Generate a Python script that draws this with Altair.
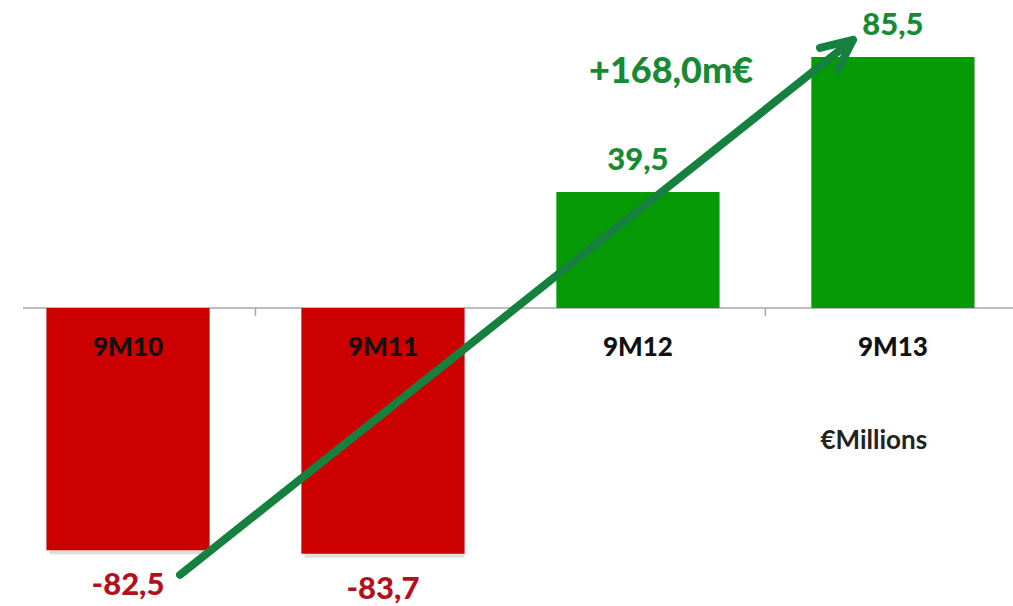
import altair as alt
import pandas as pd

# ---- data ----
categories = ["9M10", "9M11", "9M12", "9M13"]
values = [-82.5, -83.7, 39.5, 85.5]
value_labels = ["-82,5", "-83,7", "39,5", "85,5"]

# annotation arrow (x in category-index units, y in €M)
arrow_x = [0.204, 2.843]
arrow_y = [-90.9, 91.3]
head_x = [2.714, 2.843, 2.784]
head_y = [88.6, 91.3, 81.1]

note_text = ["+168,0m€"]
note_x = [2.13]
note_y = [76.6]

unit_text = ["€Millions"]
unit_x = [2.925]
unit_y = [-48.0]

baseline_x = [-0.412, 3.471]
tick_x = [0.5, 1.5, 2.5]
tick_len = -2.7

# ---- tables ----
bars = pd.DataFrame({"cat": categories, "idx": list(range(len(categories))),
                     "value": values, "label": value_labels})
arrow = pd.DataFrame({"x": arrow_x, "y": arrow_y, "o": [0, 1]})
head = pd.DataFrame({"x": head_x, "y": head_y, "o": [0, 1, 2]})
note = pd.DataFrame({"x": note_x, "y": note_y, "t": note_text})
unit = pd.DataFrame({"x": unit_x, "y": unit_y, "t": unit_text})
base = pd.DataFrame({"x": [baseline_x[0]], "x2": [baseline_x[1]], "y": [0.0]})
ticks = pd.DataFrame({"x": tick_x, "y": [0.0] * len(tick_x), "y2": [tick_len] * len(tick_x)})

XS = alt.Scale(domain=[-0.502, 3.471], nice=False, zero=False)
YS = alt.Scale(domain=[-101.5, 104.9], nice=False, zero=False)

FONT = "Lato"
W = 900
RED = "#CC0000"
GREEN = "#069A06"
GREEN_TXT = "#188A34"
RED_TXT = "#B3101E"
ARROW = "#16813F"

bar_base = alt.Chart(bars).transform_calculate(
    lo="datum.idx - 0.32", hi="datum.idx + 0.32", zero="0"
)

shadow = bar_base.mark_bar(color="black", opacity=0.13, xOffset=3, yOffset=4).encode(
    x=alt.X("lo:Q", scale=XS, axis=None),
    x2="hi:Q",
    y=alt.Y("value:Q", scale=YS, axis=None),
    y2="zero:Q",
)

baseline = alt.Chart(base).mark_rule(color="#A6A6A6", strokeWidth=1.5).encode(
    x=alt.X("x:Q", scale=XS, axis=None), x2="x2:Q",
    y=alt.Y("y:Q", scale=YS, axis=None),
)

tick_rules = alt.Chart(ticks).mark_rule(color="#A6A6A6", strokeWidth=1.5).encode(
    x=alt.X("x:Q", scale=XS, axis=None),
    y=alt.Y("y:Q", scale=YS, axis=None), y2="y2:Q",
)

bar_marks = bar_base.mark_bar().encode(
    x=alt.X("lo:Q", scale=XS, axis=None),
    x2="hi:Q",
    y=alt.Y("value:Q", scale=YS, axis=None),
    y2="zero:Q",
    color=alt.condition(alt.datum.value < 0, alt.value(RED), alt.value(GREEN)),
)

cat_text = bar_base.mark_text(
    font=FONT, fontWeight=W, fontSize=26, color="#111111",
    baseline="alphabetic", dy=48,
).encode(
    x=alt.X("idx:Q", scale=XS, axis=None),
    y=alt.Y("zero:Q", scale=YS, axis=None),
    text="cat:N",
)

pos_text = alt.Chart(bars).transform_filter("datum.value >= 0").mark_text(
    font=FONT, fontWeight=W, fontSize=31, color=GREEN_TXT,
    baseline="alphabetic", dy=-22,
).encode(
    x=alt.X("idx:Q", scale=XS, axis=None),
    y=alt.Y("value:Q", scale=YS, axis=None),
    text="label:N",
)

neg_text = alt.Chart(bars).transform_filter("datum.value < 0").mark_text(
    font=FONT, fontWeight=W, fontSize=31, color=RED_TXT,
    baseline="alphabetic", dy=45,
).encode(
    x=alt.X("idx:Q", scale=XS, axis=None),
    y=alt.Y("value:Q", scale=YS, axis=None),
    text="label:N",
)

arrow_line = alt.Chart(arrow).mark_line(
    color=ARROW, strokeWidth=8, strokeCap="round"
).encode(
    x=alt.X("x:Q", scale=XS, axis=None),
    y=alt.Y("y:Q", scale=YS, axis=None),
    order="o:Q",
)

arrow_head = alt.Chart(head).mark_line(
    color=ARROW, strokeWidth=8, strokeCap="round", strokeJoin="round"
).encode(
    x=alt.X("x:Q", scale=XS, axis=None),
    y=alt.Y("y:Q", scale=YS, axis=None),
    order="o:Q",
)

note_mark = alt.Chart(note).mark_text(
    font=FONT, fontWeight=W, fontSize=36, color=GREEN_TXT, baseline="alphabetic",
).encode(
    x=alt.X("x:Q", scale=XS, axis=None),
    y=alt.Y("y:Q", scale=YS, axis=None),
    text="t:N",
)

unit_mark = alt.Chart(unit).mark_text(
    font=FONT, fontWeight="bold", fontSize=26, color="#222222", baseline="alphabetic",
).encode(
    x=alt.X("x:Q", scale=XS, axis=None),
    y=alt.Y("y:Q", scale=YS, axis=None),
    text="t:N",
)

chart = alt.layer(
    shadow, baseline, tick_rules, bar_marks, cat_text, pos_text, neg_text,
    arrow_line, arrow_head, note_mark, unit_mark,
).properties(
    width=1013, height=606, padding=0, background="white",
    autosize=alt.AutoSizeParams(type="none"),
).configure_view(stroke=None)

chart.save("out.html", embed_options={"renderer": "svg", "actions": False})
